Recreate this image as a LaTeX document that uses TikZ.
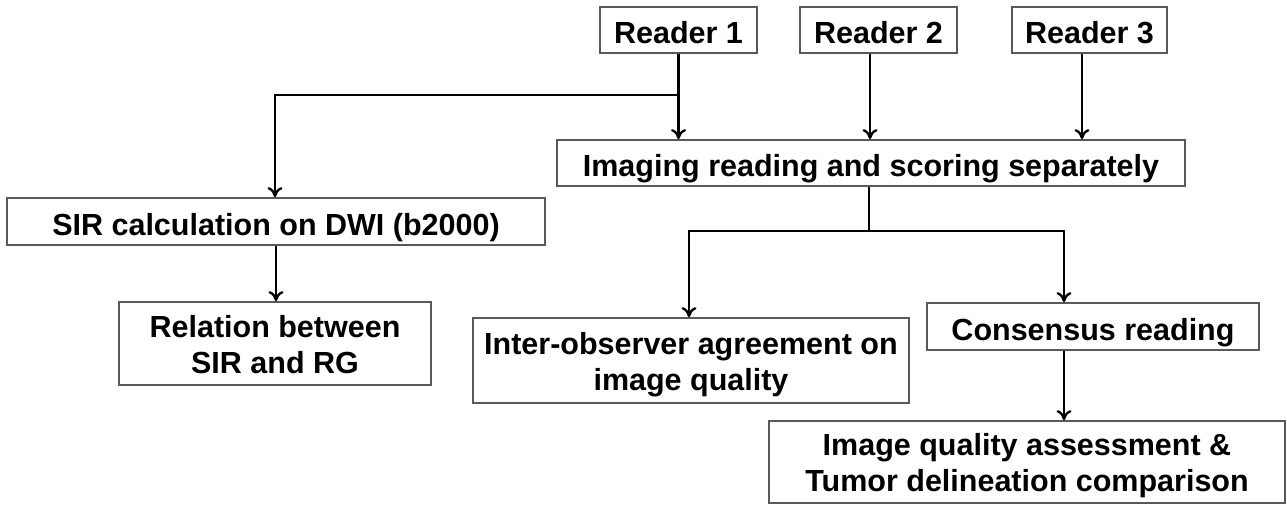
\documentclass[tikz,border=0pt]{standalone}
\usepackage{fontspec}
\setmainfont{Liberation Sans}
\usetikzlibrary{arrows.meta,calc}
\tikzset{
  stepbox/.style={draw=black!65, line width=1.8pt, fill=white, inner sep=0pt,
    align=center, font=\fontsize{30.5}{36}\selectfont\bfseries,
    text height=27pt, text depth=0pt},
  twoline/.style={text height=59pt, text depth=0pt},
  link/.style={draw=black, line width=2.3pt},
  arrowlink/.style={link, -{To[length=10pt,width=15pt]}}
}
\begin{document}
\begin{tikzpicture}[x=1pt,y=-1pt]
  \useasboundingbox (0,0) rectangle (1287,504);

  % readers
  \node[stepbox, minimum width=157pt, minimum height=46pt] (r1) at (678.5,30) {Reader 1};
  \node[stepbox, minimum width=157pt, minimum height=46pt] (r2) at (878.5,30) {Reader 2};
  \node[stepbox, minimum width=155pt, minimum height=46pt] (r3) at (1089.5,30) {Reader 3};

  % main reading step
  \node[stepbox, minimum width=628pt, minimum height=46pt] (img) at (871,163) {Imaging reading and scoring separately};

  % SIR branch
  \node[stepbox, minimum width=538pt, minimum height=47pt] (sir) at (276,221.5) {SIR calculation on DWI (b2000)};
  \node[stepbox, twoline, minimum width=312pt, minimum height=83pt] (rel) at (275,343.5) {Relation between\\SIR and RG};

  % outcomes
  \node[stepbox, twoline, minimum width=436pt, minimum height=85pt] (inter) at (691,360.5) {Inter-observer agreement on\\image quality};
  \node[stepbox, minimum width=332pt, minimum height=47pt] (cons) at (1093,326.5) {Consensus reading};
  \node[stepbox, twoline, minimum width=516pt, minimum height=82pt] (iq) at (1027,462) {Image quality assessment \&\\Tumor delineation comparison};

  % junctions
  \coordinate (j1) at (678.5,95);
  \coordinate (j2) at (869,231);

  % reader arrows
  \draw[arrowlink] (r1.south) -- (r1.south |- img.north);
  \draw[arrowlink] ([xshift=-8.5pt]r2.south) -- ([xshift=-8.5pt]r2.south |- img.north);
  \draw[arrowlink] ([xshift=-7.5pt]r3.south) -- ([xshift=-7.5pt]r3.south |- img.north);

  % branch to SIR calculation
  \draw[arrowlink] (j1) -| ([xshift=-1pt]sir.north);
  \draw[arrowlink] (sir.south) -- (sir.south |- rel.north);

  % split after reading
  \draw[link] ([xshift=-2pt]img.south) -- (j2);
  \draw[arrowlink] (j2) -| ([xshift=-2pt]inter.north);
  \draw[arrowlink] (j2) -| ([xshift=-29pt]cons.north);
  \draw[arrowlink] ([xshift=-29pt]cons.south) -- ([xshift=-29pt]cons.south |- iq.north);
\end{tikzpicture}
\end{document}
